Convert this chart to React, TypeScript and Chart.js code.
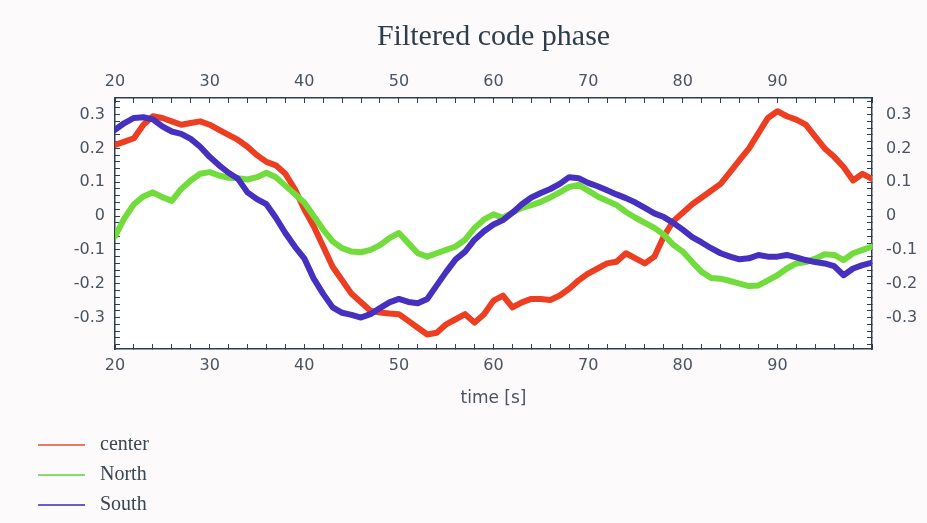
import React, { useEffect, useRef } from "react";
import { Chart, registerables } from "chart.js";

Chart.register(...registerables);

// time axis (s)
const times = [
  20, 21, 22, 23, 24, 25, 26, 27, 28, 29,
  30, 31, 32, 33, 34, 35, 36, 37, 38, 39,
  40, 41, 42, 43, 44, 45, 46, 47, 48, 49,
  50, 51, 52, 53, 54, 55, 56, 57, 58, 59,
  60, 61, 62, 63, 64, 65, 66, 67, 68, 69,
  70, 71, 72, 73, 74, 75, 76, 77, 78, 79,
  80, 81, 82, 83, 84, 85, 86, 87, 88, 89,
  90, 91, 92, 93, 94, 95, 96, 97, 98, 99,
  100,
];

const centerValues = [
  0.21, 0.22, 0.23, 0.27, 0.295, 0.29, 0.28, 0.27, 0.275, 0.28,
  0.27, 0.255, 0.24, 0.225, 0.205, 0.18, 0.16, 0.15, 0.125, 0.08,
  0.02, -0.03, -0.09, -0.15, -0.19, -0.23, -0.255, -0.28, -0.285, -0.288,
  -0.29, -0.31, -0.33, -0.35, -0.345, -0.32, -0.305, -0.29, -0.315, -0.29,
  -0.25, -0.235, -0.27, -0.255, -0.245, -0.245, -0.248, -0.235, -0.215, -0.19,
  -0.17, -0.155, -0.14, -0.135, -0.11, -0.125, -0.14, -0.12, -0.06, -0.015,
  0.01, 0.035, 0.055, 0.075, 0.095, 0.13, 0.165, 0.2, 0.245, 0.29,
  0.31, 0.295, 0.285, 0.27, 0.235, 0.2, 0.175, 0.145, 0.105, 0.125,
  0.11,
];

const northValues = [
  -0.06, -0.006, 0.035, 0.058, 0.07, 0.056, 0.045, 0.08, 0.105, 0.125,
  0.13, 0.12, 0.113, 0.112, 0.108, 0.115, 0.128, 0.115, 0.09, 0.065,
  0.04, 0.0, -0.04, -0.075, -0.095, -0.105, -0.107, -0.1, -0.086, -0.065,
  -0.05, -0.08, -0.11, -0.12, -0.11, -0.1, -0.09, -0.07, -0.035, -0.01,
  0.005, -0.005, 0.01, 0.024, 0.032, 0.042, 0.055, 0.07, 0.086, 0.092,
  0.075, 0.058, 0.045, 0.033, 0.012, -0.005, -0.02, -0.035, -0.055, -0.085,
  -0.105, -0.136, -0.165, -0.183, -0.185, -0.192, -0.2, -0.207, -0.205, -0.19,
  -0.175, -0.155, -0.14, -0.136, -0.126, -0.113, -0.115, -0.13, -0.11, -0.1,
  -0.09,
];

const southValues = [
  0.255, 0.275, 0.29, 0.292, 0.286, 0.265, 0.25, 0.243, 0.228, 0.205,
  0.175, 0.15, 0.128, 0.11, 0.07, 0.05, 0.035, -0.005, -0.05, -0.09,
  -0.125, -0.185, -0.23, -0.27, -0.286, -0.292, -0.3, -0.29, -0.272, -0.255,
  -0.245, -0.254, -0.258, -0.245, -0.205, -0.165, -0.128, -0.105, -0.07, -0.045,
  -0.025, -0.012, 0.01, 0.035, 0.055, 0.068, 0.08, 0.095, 0.115, 0.112,
  0.098, 0.088, 0.076, 0.064, 0.053, 0.04, 0.024, 0.008, -0.003, -0.02,
  -0.04, -0.062, -0.078, -0.095, -0.11, -0.12, -0.128, -0.125, -0.115, -0.12,
  -0.12, -0.115, -0.122, -0.13, -0.136, -0.14, -0.148, -0.175, -0.155, -0.145,
  -0.138,
];

const seriesNames = ["center", "North", "South"];
const seriesColors = ["#ee3e22", "#72dc3c", "#4630c0"];
const legendColors = ["#ea7a66", "#86dc6a", "#6c5cc4"];

const FRAME = "#2c3e50";
const TICK_TEXT = "#4a5360";

const tickFont = { family: "DejaVu Sans", size: 16 };

function xTicks(scale: any) {
  const t = [];
  for (let v = 20; v <= 100; v += 2) t.push({ value: v });
  scale.ticks = t;
}

function yTicks(scale: any) {
  const t = [];
  for (let k = -19; k <= 17; k++) t.push({ value: k / 50 });
  scale.ticks = t;
}

function xLabel(value: any) {
  const v = Number(value);
  return v % 10 === 0 && v < 100 ? String(v) : "";
}

function yLabel(value: any) {
  const k = Math.round(Number(value) * 50);
  if (k % 5 !== 0) return "";
  return k === 0 ? "0" : (k / 50).toFixed(1);
}

const gridOpts = {
  drawOnChartArea: false,
  drawTicks: true,
  tickLength: -5,
  tickColor: FRAME,
  tickWidth: 1,
};
const borderOpts = { display: true, color: FRAME, width: 1.5 };

const bgPlugin = {
  id: "bg",
  beforeDraw(chart: any) {
    const { ctx, chartArea } = chart;
    ctx.save();
    ctx.fillStyle = "#fcfafa";
    ctx.fillRect(0, 0, chart.width, chart.height);
    ctx.fillStyle = "#ffffff";
    ctx.fillRect(chartArea.left, chartArea.top, chartArea.right - chartArea.left, chartArea.bottom - chartArea.top);
    ctx.restore();
  },
};

const legendPlugin = {
  id: "vlegend",
  afterDraw(chart: any) {
    const { ctx } = chart;
    ctx.save();
    chart.data.datasets.forEach((ds: any, i: number) => {
      const y = 445 + i * 30;
      ctx.strokeStyle = legendColors[i];
      ctx.lineWidth = 2;
      ctx.beginPath();
      ctx.moveTo(38, y);
      ctx.lineTo(85, y);
      ctx.stroke();
      ctx.fillStyle = "#3a4555";
      ctx.font = "20px 'Liberation Serif'";
      ctx.textBaseline = "middle";
      ctx.textAlign = "left";
      ctx.fillText(ds.label, 100, y);
    });
    ctx.restore();
  },
};

export default function App() {
  const ref = useRef<HTMLCanvasElement>(null);
  useEffect(() => {
    document.body.style.margin = "0";
    const series = [centerValues, northValues, southValues];
    const chart = new Chart(ref.current as HTMLCanvasElement, {
      type: "line",
      data: {
        datasets: series.map((vals, i) => ({
          label: seriesNames[i],
          data: times.map((t, j) => ({ x: t, y: vals[j] })),
          borderColor: seriesColors[i],
          backgroundColor: seriesColors[i],
          borderWidth: 6,
          pointRadius: 0,
          tension: 0,
          borderJoinStyle: "round" as const,
          borderCapStyle: "round" as const,
          order: 3 - i,
          xAxisID: "x",
          yAxisID: "y",
        })),
      },
      options: {
        responsive: false,
        animation: false,
        devicePixelRatio: 1,
        layout: { padding: { left: 0, right: 0, top: 0, bottom: 110 } },
        plugins: {
          legend: { display: false },
          tooltip: { enabled: false },
          title: {
            display: true,
            text: "Filtered code phase",
            fullSize: false,
            color: "#2e3d4c",
            font: { family: "Liberation Serif", size: 30, weight: "normal" },
            padding: { top: 19, bottom: 0 },
          },
        },
        scales: {
          x: {
            type: "linear",
            position: "bottom",
            min: 20,
            max: 100,
            afterBuildTicks: xTicks,
            afterFit: (s: any) => { s.height = 64; },
            ticks: { autoSkip: false, maxRotation: 0, callback: xLabel, padding: 12.4, color: TICK_TEXT, font: tickFont },
            grid: gridOpts,
            border: borderOpts,
            title: {
              display: true,
              text: "time [s]",
              color: TICK_TEXT,
              font: { family: "DejaVu Sans", size: 17 },
              padding: { top: 0, bottom: 4 },
            },
          },
          x2: {
            type: "linear",
            position: "top",
            min: 20,
            max: 100,
            afterBuildTicks: xTicks,
            afterFit: (s: any) => { s.height = 43; },
            ticks: { autoSkip: false, maxRotation: 0, callback: xLabel, padding: 11.4, color: TICK_TEXT, font: tickFont },
            grid: gridOpts,
            border: borderOpts,
          },
          y: {
            type: "linear",
            position: "left",
            min: -0.393,
            max: 0.349,
            afterBuildTicks: yTicks,
            afterFit: (s: any) => { s.width = 115; },
            ticks: { autoSkip: false, callback: yLabel, padding: 15, color: TICK_TEXT, font: tickFont },
            grid: gridOpts,
            border: borderOpts,
          },
          y2: {
            type: "linear",
            position: "right",
            min: -0.393,
            max: 0.349,
            afterBuildTicks: yTicks,
            afterFit: (s: any) => { s.width = 55; },
            ticks: { autoSkip: false, callback: yLabel, padding: 19, color: TICK_TEXT, font: tickFont },
            grid: gridOpts,
            border: borderOpts,
          },
        },
      },
      plugins: [bgPlugin, legendPlugin],
    } as any);
    return () => chart.destroy();
  }, []);
  return (
    <div style={{ position: "relative", width: 927, height: 523 }}>
      <canvas ref={ref} width={927} height={523} style={{ display: "block" }} />
    </div>
  );
}
